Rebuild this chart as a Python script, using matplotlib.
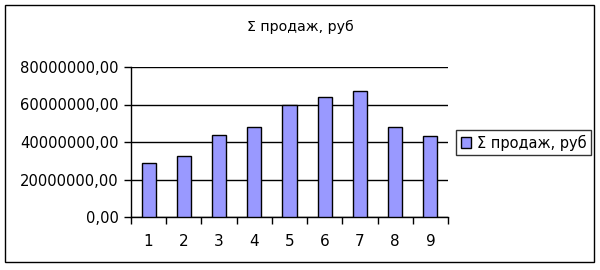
import matplotlib
matplotlib.use("Agg")
import matplotlib.pyplot as plt
from matplotlib.patches import Rectangle
from matplotlib.ticker import FuncFormatter, FixedLocator

categories = ["1", "2", "3", "4", "5", "6", "7", "8", "9"]
sales = [28600000, 32400000, 43600000, 47800000, 59700000, 63800000, 67000000, 47800000, 43000000]
series_name = "Σ продаж, руб"
title = "Σ продаж, руб"

plt.rcParams['font.family'] = ['DejaVu Sans']
W, H = 600, 270
fig = plt.figure(figsize=(6, 2.7), dpi=100)
ax = fig.add_axes([131 / W, 1 - 217 / H, (448 - 131) / W, (217 - 67) / H])

x = list(range(1, len(categories) + 1))
bars = ax.bar(x, sales, width=0.4, color="#9999FF", edgecolor="black", linewidth=1.0,
              label=series_name, zorder=3)

ax.set_xlim(0.5, len(categories) + 0.5)
ax.set_ylim(0, 80000000)
ax.set_yticks([0, 20000000, 40000000, 60000000, 80000000])
ax.yaxis.set_major_formatter(FuncFormatter(lambda v, p: f"{int(v)},00"))
ax.grid(axis="y", color="black", linewidth=1.0, zorder=1)
ax.set_axisbelow(True)

ax.set_xticks(x)
ax.set_xticklabels(categories)
ax.xaxis.set_minor_locator(FixedLocator([i + 0.5 for i in range(0, len(categories) + 1)]))
ax.tick_params(axis="x", which="major", length=0, pad=12, labelsize=11)
ax.tick_params(axis="x", which="minor", length=5, width=1, direction="out")
ax.tick_params(axis="y", length=5, width=1, direction="out", pad=4, labelsize=10.6)

for s in ["top", "right"]:
    ax.spines[s].set_visible(False)
for s in ["left", "bottom"]:
    ax.spines[s].set_linewidth(1.0)

fig.text(0.5, 1 - 27 / H, title, ha="center", va="center", fontsize=10.2)

leg = fig.legend(handles=[bars], labels=[series_name], loc="center",
                 bbox_to_anchor=(523.5 / W, 1 - 142.5 / H), frameon=True, fancybox=False,
                 fontsize=10.5, handlelength=0.7, handleheight=0.7, handletextpad=0.4,
                 borderpad=0.3, borderaxespad=0)
leg.get_frame().set_edgecolor("black")
leg.get_frame().set_linewidth(1.0)

fig.patches.append(Rectangle((5 / W, 1 - 262 / H), 589 / W, 257 / H, transform=fig.transFigure,
                             fill=False, edgecolor="black", linewidth=1.0))

fig.savefig("out.png", dpi=100)
